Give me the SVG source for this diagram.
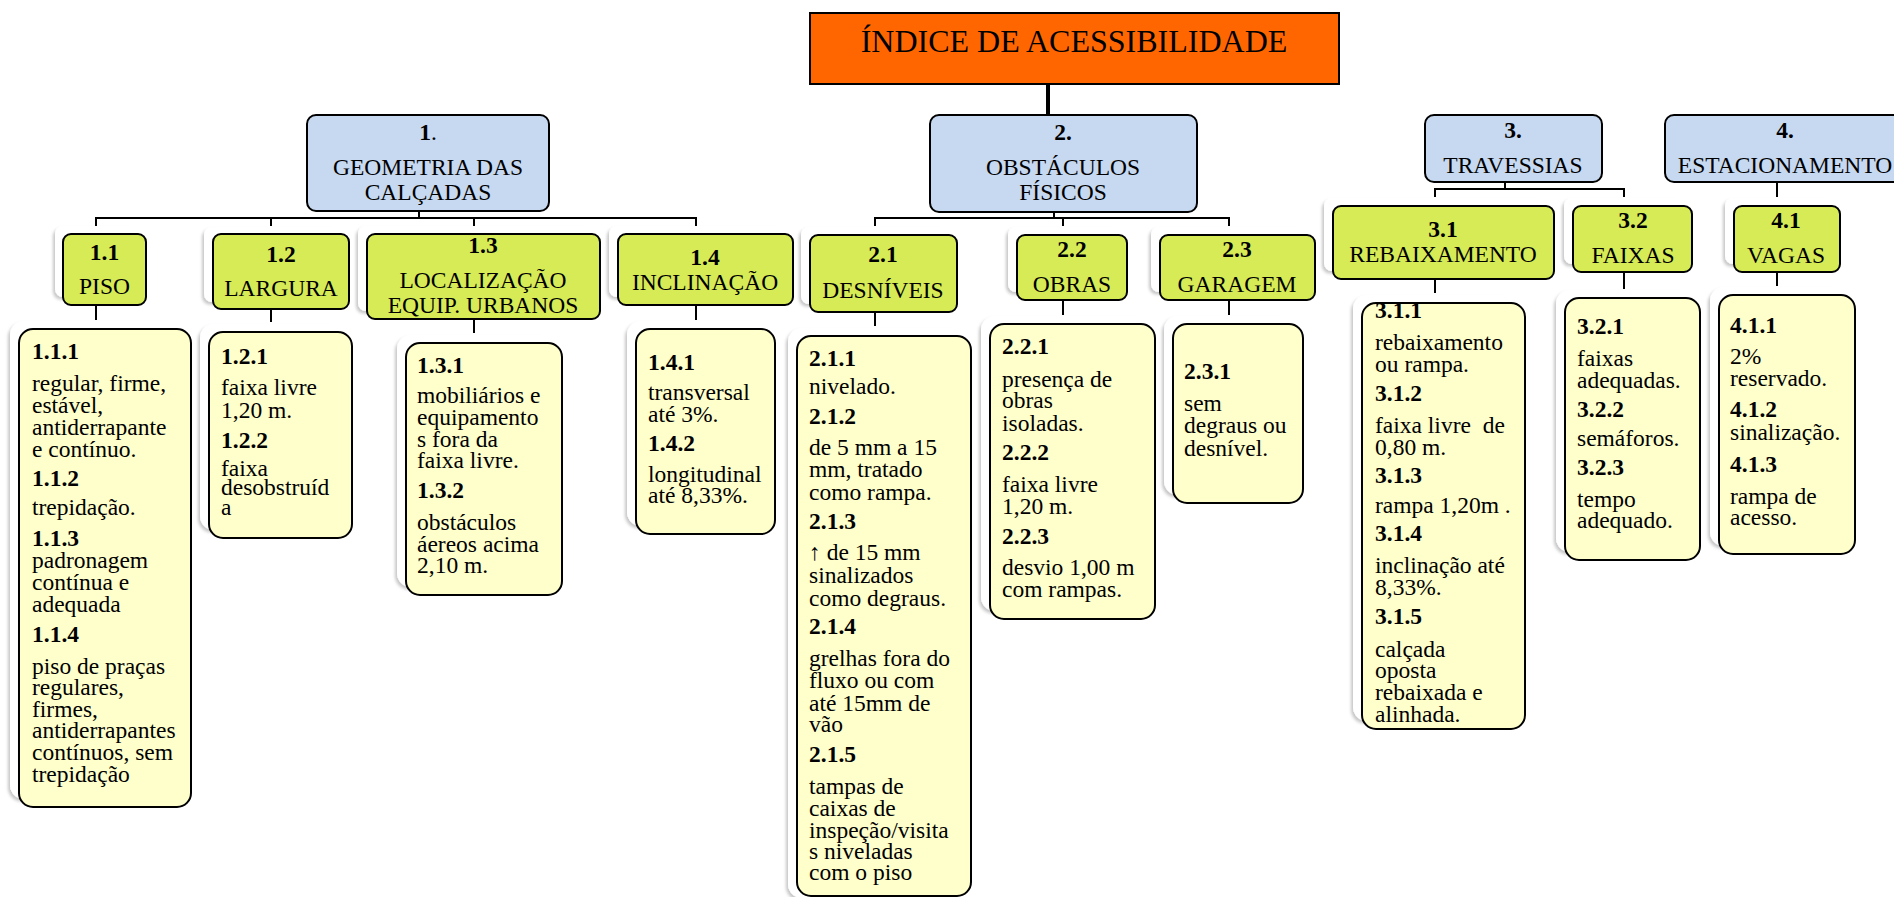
<svg xmlns="http://www.w3.org/2000/svg" width="1894" height="897" viewBox="0 0 1894 897">
<style>
text{font-family:"Liberation Serif","Times New Roman",serif;fill:#000}
.ttl{font-size:32px;text-anchor:middle}
.h{font-size:23.5px;text-anchor:middle}
.hb{font-size:23.5px;text-anchor:middle;font-weight:bold}
.t{font-size:23.5px}
.b{font-weight:bold}
.l1{fill:#C6D9F1;stroke:#000;stroke-width:2}
.l2{fill:#D6EB56;stroke:#000;stroke-width:2}
.l3{fill:#FFFFCC;stroke:#000;stroke-width:2}
.sh{fill:#fff;filter:url(#ds)}
.c{stroke:#000;stroke-width:2;fill:none}
</style>
<defs>
<filter id="ds" x="-20%" y="-20%" width="140%" height="140%">
<feDropShadow dx="-2" dy="2.5" stdDeviation="1.6" flood-color="#000" flood-opacity="0.22"/>
</filter>
</defs>
<rect width="1894" height="897" fill="#fff"/>

<g id="shadows">
<rect class="sh" x="55" y="226" width="83" height="71" rx="8"/>
<rect class="sh" x="204" y="227" width="136" height="75" rx="8"/>
<rect class="sh" x="358" y="226" width="233" height="85" rx="8"/>
<rect class="sh" x="609" y="226" width="175" height="71" rx="8"/>
<rect class="sh" x="801" y="227" width="147" height="77" rx="8"/>
<rect class="sh" x="1008" y="227" width="110" height="65" rx="8"/>
<rect class="sh" x="1151" y="227" width="155" height="65" rx="8"/>
<rect class="sh" x="1324" y="198" width="221" height="73" rx="8"/>
<rect class="sh" x="1564" y="198" width="119" height="66" rx="8"/>
<rect class="sh" x="1725" y="198" width="106" height="66" rx="8"/>
<rect class="sh" x="10" y="321" width="172" height="478" rx="14"/>
<rect class="sh" x="200" y="324" width="143" height="206" rx="14"/>
<rect class="sh" x="397" y="335" width="156" height="252" rx="14"/>
<rect class="sh" x="627" y="321" width="139" height="205" rx="14"/>
<rect class="sh" x="788" y="328" width="174" height="570" rx="14"/>
<rect class="sh" x="981" y="316" width="165" height="295" rx="14"/>
<rect class="sh" x="1164" y="316" width="130" height="179" rx="14"/>
<rect class="sh" x="1353" y="295" width="163" height="426" rx="14"/>
<rect class="sh" x="1556" y="290" width="135" height="262" rx="14"/>
<rect class="sh" x="1710" y="287" width="136" height="259" rx="14"/>
</g>

<g id="connectors">
<line class="c" x1="1048" y1="84" x2="1048" y2="115" style="stroke-width:4"/>
<path class="c" d="M419 211V218M96 218H696M96 217V226M271 217V226M474 217V226M696 217V226"/>
<path class="c" d="M1054 212V218M875 218H1229M875 217V226M1063 217V226M1229 217V226"/>
<path class="c" d="M1505 182V189M1435 189H1624M1435 188V197M1624 188V197"/>
<path class="c" d="M1777 182V197"/>
<path class="c" d="M96 305V320M271 309V322M474 319V333M696 305V320M875 312V326M1063 300V315M1229 300V315M1435 279V293M1624 272V289M1777 272V286"/>
</g>

<g id="root">
<rect x="810" y="13" width="529" height="71" fill="#FF6600" stroke="#000" stroke-width="2"/>
<text class="ttl" x="1074" y="52">ÍNDICE DE ACESSIBILIDADE</text>
</g>

<g id="n1">
<rect class="l1" x="307" y="115" width="242" height="96" rx="9"/>
<text class="h" x="428" y="140"><tspan font-weight="bold">1</tspan>.</text>
<text class="h" x="428" y="175">GEOMETRIA DAS</text>
<text class="h" x="428" y="200">CALÇADAS</text>
</g>
<g id="n2">
<rect class="l1" x="930" y="115" width="267" height="97" rx="9"/>
<text class="hb" x="1063" y="140">2.</text>
<text class="h" x="1063" y="175">OBSTÁCULOS</text>
<text class="h" x="1063" y="200">FÍSICOS</text>
</g>
<g id="n3">
<rect class="l1" x="1425" y="115" width="177" height="67" rx="9"/>
<text class="hb" x="1513" y="138">3.</text>
<text class="h" x="1513" y="173">TRAVESSIAS</text>
</g>
<g id="n4">
<rect class="l1" x="1665" y="115" width="260" height="67" rx="9"/>
<text class="hb" x="1785" y="138">4.</text>
<text class="h" x="1785" y="173">ESTACIONAMENTO</text>
</g>

<g id="n1-1">
<rect class="l2" x="63" y="234" width="83" height="71" rx="8"/>
<text class="hb" x="104.5" y="260">1.1</text>
<text class="h" x="104.5" y="294">PISO</text>
</g>
<g id="n1-2">
<rect class="l2" x="213" y="234" width="136" height="75" rx="8"/>
<text class="hb" x="281" y="262">1.2</text>
<text class="h" x="281" y="296">LARGURA</text>
</g>
<g id="n1-3">
<rect class="l2" x="367" y="234" width="233" height="85" rx="8"/>
<text class="hb" x="483" y="253">1.3</text>
<text class="h" x="483" y="288">LOCALIZAÇÃO</text>
<text class="h" x="483" y="313">EQUIP. URBANOS</text>
</g>
<g id="n1-4">
<rect class="l2" x="618" y="234" width="175" height="71" rx="8"/>
<text class="hb" x="705" y="265">1.4</text>
<text class="h" x="705" y="290">INCLINAÇÃO</text>
</g>
<g id="n2-1">
<rect class="l2" x="810" y="235" width="147" height="77" rx="8"/>
<text class="hb" x="883" y="262">2.1</text>
<text class="h" x="883" y="298">DESNÍVEIS</text>
</g>
<g id="n2-2">
<rect class="l2" x="1017" y="235" width="110" height="65" rx="8"/>
<text class="hb" x="1072" y="257">2.2</text>
<text class="h" x="1072" y="292">OBRAS</text>
</g>
<g id="n2-3">
<rect class="l2" x="1160" y="235" width="155" height="65" rx="8"/>
<text class="hb" x="1237" y="257">2.3</text>
<text class="h" x="1237" y="292">GARAGEM</text>
</g>
<g id="n3-1">
<rect class="l2" x="1333" y="206" width="221" height="73" rx="8"/>
<text class="hb" x="1443" y="237">3.1</text>
<text class="h" x="1443" y="262">REBAIXAMENTO</text>
</g>
<g id="n3-2">
<rect class="l2" x="1573" y="206" width="119" height="66" rx="8"/>
<text class="hb" x="1633" y="228">3.2</text>
<text class="h" x="1633" y="263">FAIXAS</text>
</g>
<g id="n4-1">
<rect class="l2" x="1734" y="206" width="106" height="66" rx="8"/>
<text class="hb" x="1786" y="228">4.1</text>
<text class="h" x="1786" y="263">VAGAS</text>
</g>

<g id="n1-1-x">
<rect class="l3" x="19" y="329" width="172" height="478" rx="14"/>
<text class="t">
<tspan class="b" x="32" y="359">1.1.1</tspan>
<tspan x="32" y="391">regular, firme,</tspan>
<tspan x="32" y="413">estável,</tspan>
<tspan x="32" y="435">antiderrapante</tspan>
<tspan x="32" y="457">e contínuo.</tspan>
<tspan class="b" x="32" y="486">1.1.2</tspan>
<tspan x="32" y="515">trepidação.</tspan>
<tspan class="b" x="32" y="546">1.1.3</tspan>
<tspan x="32" y="568">padronagem</tspan>
<tspan x="32" y="590">contínua e</tspan>
<tspan x="32" y="612">adequada</tspan>
<tspan class="b" x="32" y="642">1.1.4</tspan>
<tspan x="32" y="674">piso de praças</tspan>
<tspan x="32" y="695">regulares,</tspan>
<tspan x="32" y="717">firmes,</tspan>
<tspan x="32" y="738">antiderrapantes</tspan>
<tspan x="32" y="760">contínuos, sem</tspan>
<tspan x="32" y="782">trepidação</tspan>
</text>
</g>
<g id="n1-2-x">
<rect class="l3" x="209" y="332" width="143" height="206" rx="14"/>
<text class="t">
<tspan class="b" x="221" y="364">1.2.1</tspan>
<tspan x="221" y="395">faixa livre</tspan>
<tspan x="221" y="418">1,20 m.</tspan>
<tspan class="b" x="221" y="448">1.2.2</tspan>
<tspan x="221" y="476">faixa</tspan>
<tspan x="221" y="495">desobstruíd</tspan>
<tspan x="221" y="515">a</tspan>
</text>
</g>
<g id="n1-3-x">
<rect class="l3" x="406" y="343" width="156" height="252" rx="14"/>
<text class="t">
<tspan class="b" x="417" y="373">1.3.1</tspan>
<tspan x="417" y="403">mobiliários e</tspan>
<tspan x="417" y="425">equipamento</tspan>
<tspan x="417" y="447">s fora da</tspan>
<tspan x="417" y="468">faixa livre.</tspan>
<tspan class="b" x="417" y="498">1.3.2</tspan>
<tspan x="417" y="530">obstáculos</tspan>
<tspan x="417" y="552">áereos acima</tspan>
<tspan x="417" y="573">2,10 m.</tspan>
</text>
</g>
<g id="n1-4-x">
<rect class="l3" x="636" y="329" width="139" height="205" rx="14"/>
<text class="t">
<tspan class="b" x="648" y="370">1.4.1</tspan>
<tspan x="648" y="400">transversal</tspan>
<tspan x="648" y="422">até 3%.</tspan>
<tspan class="b" x="648" y="451">1.4.2</tspan>
<tspan x="648" y="482">longitudinal</tspan>
<tspan x="648" y="503">até 8,33%.</tspan>
</text>
</g>
<g id="n2-1-x">
<rect class="l3" x="797" y="336" width="174" height="560" rx="14"/>
<text class="t">
<tspan class="b" x="809" y="366">2.1.1</tspan>
<tspan x="809" y="394">nivelado.</tspan>
<tspan class="b" x="809" y="424">2.1.2</tspan>
<tspan x="809" y="455">de 5 mm a 15</tspan>
<tspan x="809" y="477">mm, tratado</tspan>
<tspan x="809" y="500">como rampa.</tspan>
<tspan class="b" x="809" y="529">2.1.3</tspan>
<tspan x="809" y="560">↑ de 15 mm</tspan>
<tspan x="809" y="583">sinalizados</tspan>
<tspan x="809" y="606">como degraus.</tspan>
<tspan class="b" x="809" y="634">2.1.4</tspan>
<tspan x="809" y="666">grelhas fora do</tspan>
<tspan x="809" y="688">fluxo ou com</tspan>
<tspan x="809" y="711">até 15mm de</tspan>
<tspan x="809" y="732">vão</tspan>
<tspan class="b" x="809" y="762">2.1.5</tspan>
<tspan x="809" y="794">tampas de</tspan>
<tspan x="809" y="816">caixas de</tspan>
<tspan x="809" y="838">inspeção/visita</tspan>
<tspan x="809" y="859">s niveladas</tspan>
<tspan x="809" y="880">com o piso</tspan>
</text>
</g>
<g id="n2-2-x">
<rect class="l3" x="990" y="324" width="165" height="295" rx="14"/>
<text class="t">
<tspan class="b" x="1002" y="354">2.2.1</tspan>
<tspan x="1002" y="387">presença de</tspan>
<tspan x="1002" y="408">obras</tspan>
<tspan x="1002" y="431">isoladas.</tspan>
<tspan class="b" x="1002" y="460">2.2.2</tspan>
<tspan x="1002" y="492">faixa livre</tspan>
<tspan x="1002" y="514">1,20 m.</tspan>
<tspan class="b" x="1002" y="544">2.2.3</tspan>
<tspan x="1002" y="575">desvio 1,00 m</tspan>
<tspan x="1002" y="597">com rampas.</tspan>
</text>
</g>
<g id="n2-3-x">
<rect class="l3" x="1173" y="324" width="130" height="179" rx="14"/>
<text class="t">
<tspan class="b" x="1184" y="379">2.3.1</tspan>
<tspan x="1184" y="411">sem</tspan>
<tspan x="1184" y="433">degraus ou</tspan>
<tspan x="1184" y="456">desnível.</tspan>
</text>
</g>
<g id="n3-1-x">
<rect class="l3" x="1362" y="303" width="163" height="426" rx="14"/>
<text class="t">
<tspan class="b" x="1375" y="318">3.1.1</tspan>
<tspan x="1375" y="350">rebaixamento</tspan>
<tspan x="1375" y="372">ou rampa.</tspan>
<tspan class="b" x="1375" y="401">3.1.2</tspan>
<tspan x="1375" y="433" xml:space="preserve">faixa livre  de</tspan>
<tspan x="1375" y="455">0,80 m.</tspan>
<tspan class="b" x="1375" y="483">3.1.3</tspan>
<tspan x="1375" y="513">rampa 1,20m .</tspan>
<tspan class="b" x="1375" y="541">3.1.4</tspan>
<tspan x="1375" y="573">inclinação até</tspan>
<tspan x="1375" y="595">8,33%.</tspan>
<tspan class="b" x="1375" y="624">3.1.5</tspan>
<tspan x="1375" y="657">calçada</tspan>
<tspan x="1375" y="678">oposta</tspan>
<tspan x="1375" y="700">rebaixada e</tspan>
<tspan x="1375" y="722">alinhada.</tspan>
</text>
</g>
<g id="n3-2-x">
<rect class="l3" x="1565" y="298" width="135" height="262" rx="14"/>
<text class="t">
<tspan class="b" x="1577" y="334">3.2.1</tspan>
<tspan x="1577" y="366">faixas</tspan>
<tspan x="1577" y="388">adequadas.</tspan>
<tspan class="b" x="1577" y="417">3.2.2</tspan>
<tspan x="1577" y="446">semáforos.</tspan>
<tspan class="b" x="1577" y="475">3.2.3</tspan>
<tspan x="1577" y="507">tempo</tspan>
<tspan x="1577" y="528">adequado.</tspan>
</text>
</g>
<g id="n4-1-x">
<rect class="l3" x="1719" y="295" width="136" height="259" rx="14"/>
<text class="t">
<tspan class="b" x="1730" y="333">4.1.1</tspan>
<tspan x="1730" y="364">2%</tspan>
<tspan x="1730" y="386">reservado.</tspan>
<tspan class="b" x="1730" y="417">4.1.2</tspan>
<tspan x="1730" y="440">sinalização.</tspan>
<tspan class="b" x="1730" y="472">4.1.3</tspan>
<tspan x="1730" y="504">rampa de</tspan>
<tspan x="1730" y="525">acesso.</tspan>
</text>
</g>
</svg>
